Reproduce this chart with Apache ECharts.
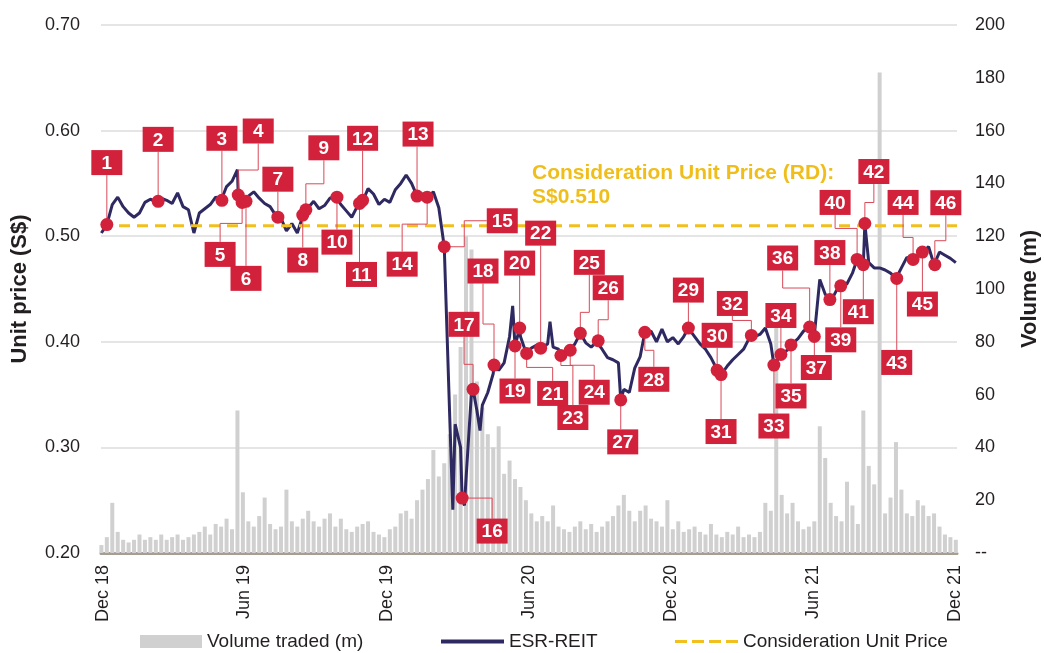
<!DOCTYPE html>
<html>
<head>
<meta charset="utf-8">
<script src="https://cdn.jsdelivr.net/npm/echarts@6/dist/echarts.min.js"></script>
<style>
html,body{margin:0;padding:0;background:#fff}
#chart{width:1044px;height:653px}
</style>
</head>
<body>
<div id="chart"></div>
<script>
//周线收盘价，从2018-11-29开始每7天一个点
var weekStart = '2018-11-29';
var weeklyPrice = [
  0.503,0.511,0.530,0.537,0.528,0.522,0.518,0.522,0.532,0.535,
  0.533,0.536,0.534,0.531,0.541,0.528,0.525,0.503,0.522,0.526,
  0.530,0.537,0.534,0.547,0.552,0.563,0.533,0.538,0.542,0.536,
  0.531,0.528,0.520,0.517,0.505,0.512,0.503,0.519,0.527,0.533,
  0.526,0.529,0.536,0.538,0.530,0.524,0.518,0.528,0.533,0.545,
  0.540,0.530,0.535,0.532,0.544,0.550,0.558,0.550,0.538,0.540,
  0.537,0.542,0.527,0.490,0.330,0.322,0.300,0.270,0.352,0.335,
  0.340,0.352,0.370,0.373,0.380,0.405,0.396,0.405,0.390,0.394,
  0.397,0.394,0.398,0.395,0.393,0.386,0.392,0.398,0.408,0.399,
  0.395,0.400,0.393,0.385,0.383,0.380,0.355,0.352,0.375,0.386,
  0.408,0.410,0.400,0.412,0.400,0.404,0.398,0.405,0.413,0.405,
  0.398,0.393,0.385,0.375,0.369,0.377,0.383,0.388,0.393,0.403,
  0.405,0.407,0.413,0.398,0.381,0.388,0.392,0.397,0.403,0.410,
  0.414,0.406,0.459,0.445,0.438,0.448,0.453,0.455,0.465,0.478,
  0.473,0.475,0.470,0.470,0.468,0.465,0.460,0.470,0.480,0.478,
  0.482,0.486,0.490,0.473,0.485,0.482,0.479,0.475
];
//周线漏掉的几个日内拐点
var extraDates = ['2020-02-24','2020-03-10','2020-03-30','2020-05-11','2020-06-28'];
var extraPrice = [0.241,0.245,0.316,0.434,0.419];

//成交量(百万)，与周线对应
var weeklyVolume = [
  3,6,19,8,5,4,5,7,5,6,
  5,7,5,6,7,5,6,7,8,10,
  7,11,10,13,9,54,23,12,10,14,
  21,11,9,10,24,12,10,13,16,12,
  10,13,15,10,13,9,8,10,11,12,
  8,7,6,9,10,15,16,13,20,24,
  28,39,29,34,45,60,78,120,115,65,
  55,45,40,48,30,35,28,25,20,15,
  12,14,12,18,10,9,8,10,12,9,
  11,8,10,12,14,18,22,16,12,16,
  18,13,12,10,20,9,12,8,9,10,
  8,7,11,7,6,8,7,10,6,7,
  6,8,19,16,90,22,15,19,12,9,
  10,12,48,36,19,14,12,27,18,11,
  54,33,26,182,15,21,42,24,15,14,
  20,18,14,15,10,7,6,5
];

//编号标注点
var noteDates = ['2018-12-06','2019-02-10','2019-05-03','2019-05-24','2019-05-29','2019-06-03','2019-07-14','2019-08-15','2019-08-19','2019-09-28',
  '2019-10-27','2019-10-31','2020-01-09','2020-01-22','2020-02-13','2020-03-07','2020-03-21','2020-04-17','2020-05-14','2020-05-20',
  '2020-05-29','2020-06-16','2020-07-12','2020-07-24','2020-08-06','2020-08-29','2020-09-27','2020-10-28','2020-12-23','2021-01-29',
  '2021-02-03','2021-03-14','2021-04-12','2021-04-21','2021-05-04','2021-05-28','2021-06-03','2021-06-23','2021-07-07','2021-07-28',
  '2021-08-05','2021-08-07','2021-09-17','2021-10-08','2021-10-20','2021-11-05'];
var notePrice = [0.511,0.533,0.534,0.539,0.532,0.533,0.518,0.520,0.525,0.537,
  0.531,0.534,0.538,0.537,0.490,0.252,0.355,0.378,0.396,0.413,
  0.389,0.394,0.387,0.392,0.408,0.401,0.345,0.409,0.413,0.373,
  0.369,0.406,0.378,0.388,0.397,0.414,0.405,0.440,0.453,0.478,
  0.473,0.512,0.460,0.478,0.485,0.473];

var considerationPrice = 0.510;
var xTickDates = ['2018-12-01','2019-06-01','2019-12-01','2020-06-01','2020-12-01','2021-06-01','2021-12-01'];
var xTickLabels = ['Dec 18','Jun 19','Dec 19','Jun 20','Dec 20','Jun 21','Dec 21'];

//标注框相对圆点的偏移(px)：dx, dy, 折线拐点y偏移(0为直线)；'h'为水平出线
var noteBoxes = [
  [0,-62,0],[0,-62,0],[0,-62,0],[20,-64,-25],[-22,52,21],[0,77,0],[0,-38,0],[0,45,0],[18,-62,-26],[0,45,0],
  [2,71,0],[0,-62,0],[1,-62,0],[-25,67,27],[58,-26,'h',20],[30,33,'h',30],[-9,-65,-25],[-11,-94,-41],[0,45,0],[0,-65,0],
  [26,40,14],[0,-115,0],[12,62,10],[24,42,15],[9,-71,-21],[10,-53,-21],[2,42,0],[9,47,18],[0,-38,0],[0,-35,0],
  [0,57,0],[-19,-32,-15],[0,61,0],[0,-39,0],[0,51,0],[-27,-69,-39],[2,31,0],[0,-47,0],[0,54,0],[-22,-57,-31],
  [-5,47,0],[9,-52,-21],[0,84,0],[-10,-57,-22],[0,52,0],[11,-62,-24]
];

var DAY = 86400000;
var RED = '#D2213B';
var NAVY = '#2E2A61';
var GOLD = '#F2C01C';
var FONT = 'Arial, "Liberation Sans", sans-serif';
var xMin = Date.UTC(2018, 10, 28, 12);
var xMax = xMin + 1101 * DAY;
var t0 = Date.parse(weekStart);
var xTickTimes = xTickDates.map(function (d) { return Date.parse(d); });

var volumeData = weeklyVolume.map(function (v, i) { return [t0 + i * 7 * DAY, v]; });
var priceData = weeklyPrice.map(function (v, i) { return [t0 + i * 7 * DAY, v]; })
  .concat(extraDates.map(function (d, i) { return [Date.parse(d), extraPrice[i]]; }))
  .concat(noteDates.map(function (d, i) { return [Date.parse(d), notePrice[i]]; }))
  .sort(function (a, b) { return a[0] - b[0]; });
var noteData = noteDates.map(function (d, i) { return [Date.parse(d), notePrice[i], i + 1]; });

//编号框+折线+圆点
function drawNote(params, api) {
  var i = params.dataIndex;
  var p = api.coord([api.value(0), api.value(1)]);
  var b = noteBoxes[i];
  var w = 31, h = 25;
  var bx = p[0] + b[0], by = p[1] + b[1];
  var edgeY = b[1] < 0 ? by + h / 2 : by - h / 2;
  var pts;
  if (b[2] === 'h') {
    var ex = p[0] + b[3];
    pts = b[3] === b[0] ? [p, [ex, p[1]], [ex, edgeY]] : [p, [ex, p[1]], [ex, by], [bx - w / 2, by]];
  } else if (b[2]) {
    var ey = p[1] + b[2];
    pts = [p, [p[0], ey], [bx, ey], [bx, edgeY]];
  } else {
    pts = [p, [p[0], edgeY]];
  }
  return {
    type: 'group',
    children: [
      { type: 'polyline', shape: { points: pts }, style: { stroke: '#D84A59', lineWidth: 1, fill: 'none' } },
      { type: 'rect', shape: { x: bx - w / 2, y: by - h / 2, width: w, height: h }, style: { fill: RED } },
      { type: 'text', style: { text: String(api.value(2)), x: bx, y: by + 1, align: 'center', verticalAlign: 'middle', fill: '#fff', font: 'bold 19px ' + FONT } },
      { type: 'circle', shape: { cx: p[0], cy: p[1], r: 6.5 }, style: { fill: RED } }
    ]
  };
}

var labelStyle = { color: '#231F20', fontSize: 18, fontFamily: FONT };
var legendText = { color: '#231F20', fontSize: 19, fontFamily: FONT };

var chart = echarts.init(document.getElementById('chart'));
chart.setOption({
  animation: false,
  backgroundColor: '#fff',
  grid: { left: 101, right: 87, top: 25, bottom: 100, outerBoundsMode: 'none' },
  legend: [
    { data: [{ name: 'Volume traded (m)', icon: 'rect' }], left: 140, top: 632, padding: 0, itemWidth: 62, itemHeight: 13, textStyle: legendText },
    { data: [{ name: 'ESR-REIT', icon: 'path://M0,0H63V4H0Z' }], left: 441, top: 632, padding: 0, itemWidth: 63, itemHeight: 4, textStyle: legendText },
    { data: [{ name: 'Consideration Unit Price', icon: 'path://M0,0h12v3h-12zM17,0h12v3h-12zM34,0h12v3h-12zM51,0h12v3h-12z' }], left: 675, top: 632, padding: 0, itemWidth: 63, itemHeight: 3, textStyle: legendText }
  ],
  xAxis: {
    type: 'value', min: xMin, max: xMax,
    axisLine: { lineStyle: { color: '#A69D93', width: 3 } },
    axisTick: { show: false },
    splitLine: { show: false },
    axisLabel: Object.assign({
      customValues: xTickTimes, rotate: 90, margin: 12,
      formatter: function (v) { var k = xTickTimes.indexOf(v); return k < 0 ? '' : xTickLabels[k]; }
    }, labelStyle)
  },
  yAxis: [{
    type: 'value', min: 0.2, max: 0.7, interval: 0.1,
    name: 'Unit price (S$)', nameLocation: 'middle', nameGap: 70, nameRotate: 90,
    nameTextStyle: { fontWeight: 'bold', fontSize: 22, color: '#231F20', fontFamily: FONT },
    axisLine: { show: false }, axisTick: { show: false },
    axisLabel: Object.assign({ margin: 21, formatter: function (v) { return v.toFixed(2); } }, labelStyle),
    splitLine: { lineStyle: { color: '#DCDCDC', width: 1.5 } }
  }, {
    type: 'value', min: 0, max: 200, interval: 20, position: 'right',
    name: 'Volume (m)', nameLocation: 'middle', nameGap: 62, nameRotate: 90,
    nameTextStyle: { fontWeight: 'bold', fontSize: 22, color: '#231F20', fontFamily: FONT },
    axisLine: { show: false }, axisTick: { show: false },
    axisLabel: Object.assign({ margin: 18, formatter: function (v) { return v === 0 ? '--' : v; } }, labelStyle),
    splitLine: { show: false }
  }],
  graphic: [
    { type: 'text', left: 532, top: 163, style: { text: 'Consideration Unit Price (RD):', fill: '#F0BE1B', font: 'bold 21px ' + FONT } },
    { type: 'text', left: 532, top: 187, style: { text: 'S$0.510', fill: '#F0BE1B', font: 'bold 21px ' + FONT } }
  ],
  series: [{
    name: 'Volume traded (m)', type: 'bar', yAxisIndex: 1, data: volumeData,
    barWidth: 4, itemStyle: { color: '#D0D0D1' }, z: 1
  }, {
    name: 'ESR-REIT', type: 'line', yAxisIndex: 0, data: priceData,
    symbol: 'none', lineStyle: { color: NAVY, width: 3 }, itemStyle: { color: NAVY }, z: 3
  }, {
    name: 'Consideration Unit Price', type: 'line', yAxisIndex: 0,
    data: [[xMin, considerationPrice], [xMax, considerationPrice]],
    symbol: 'none', lineStyle: { color: GOLD, width: 3, type: [11, 7] }, itemStyle: { color: GOLD }, z: 4
  }, {
    type: 'custom', yAxisIndex: 0, data: noteData, renderItem: drawNote,
    encode: { x: 0, y: 1 }, clip: false, z: 10
  }]
});
</script>
</body>
</html>
